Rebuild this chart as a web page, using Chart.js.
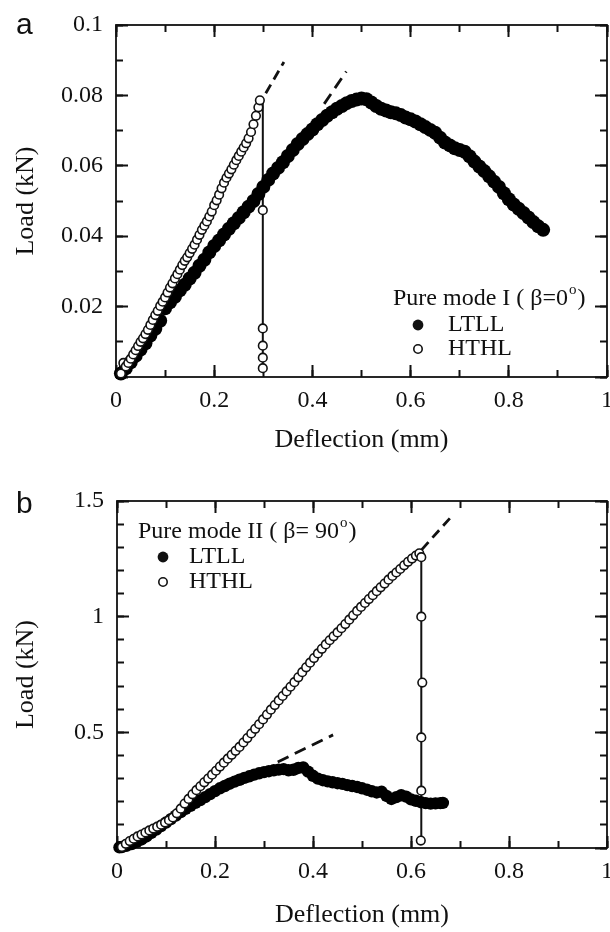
<!DOCTYPE html>
<html>
<head>
<meta charset="utf-8">
<script src="https://cdn.jsdelivr.net/npm/chart.js@4.4.1/dist/chart.umd.min.js"></script>
<style>
	body { margin: 0; background: #fff; overflow: hidden; }
	#wrap { position: relative; width: 610px; height: 932px; overflow: hidden; }
	canvas { position: absolute; left: 0; }
</style>
</head>
<body>
<div id="wrap">
	<canvas id="cntx_mode1" width="623" height="460" style="top:0"></canvas>
	<canvas id="cntx_mode2" width="623" height="472" style="top:460px"></canvas>
</div>
<script>
// ---- data: [deflection (mm), load (kN)] ----
const mode1_ltll = [
	[0.01, 0.0010], [0.02, 0.0025], [0.03, 0.0042], [0.04, 0.0060], [0.05, 0.0078],
	[0.06, 0.0096], [0.07, 0.0118], [0.08, 0.0137], [0.09, 0.0160], [0.10, 0.0195],
	[0.11, 0.0212], [0.12, 0.0228], [0.13, 0.0246], [0.14, 0.0262], [0.15, 0.0280],
	[0.16, 0.0296], [0.17, 0.0316], [0.18, 0.0333], [0.19, 0.0354], [0.20, 0.0372],
	[0.21, 0.0388], [0.22, 0.0405], [0.23, 0.0421], [0.24, 0.0437], [0.25, 0.0452],
	[0.26, 0.0468], [0.27, 0.0484], [0.28, 0.0500], [0.29, 0.0520], [0.30, 0.0540],
	[0.31, 0.0560], [0.32, 0.0578], [0.33, 0.0594], [0.34, 0.0610], [0.35, 0.0628],
	[0.36, 0.0645], [0.37, 0.0662], [0.38, 0.0676], [0.39, 0.0690], [0.40, 0.0703],
	[0.41, 0.0718], [0.42, 0.0730], [0.43, 0.0742], [0.44, 0.0752], [0.45, 0.0762],
	[0.46, 0.0770], [0.47, 0.0778], [0.48, 0.0784], [0.49, 0.0788], [0.50, 0.0791],
	[0.51, 0.0789], [0.52, 0.0780], [0.53, 0.0770], [0.54, 0.0762], [0.55, 0.0757],
	[0.56, 0.0752], [0.57, 0.0749], [0.58, 0.0744], [0.59, 0.0737], [0.60, 0.0732],
	[0.61, 0.0726], [0.62, 0.0718], [0.63, 0.0710], [0.64, 0.0702], [0.65, 0.0694],
	[0.66, 0.0680], [0.67, 0.0666], [0.68, 0.0658], [0.69, 0.0650], [0.70, 0.0645],
	[0.71, 0.0640], [0.72, 0.0627], [0.73, 0.0612], [0.74, 0.0598], [0.75, 0.0585],
	[0.76, 0.0570], [0.77, 0.0555], [0.78, 0.0540], [0.79, 0.0522], [0.80, 0.0505],
	[0.81, 0.0490], [0.82, 0.0478], [0.83, 0.0466], [0.84, 0.0453], [0.85, 0.0440],
	[0.86, 0.0428], [0.87, 0.0418]
];
const mode1_hthl = [
	[0.010, 0.0010], [0.015, 0.0040], [0.020, 0.0030], [0.025, 0.0040], [0.030, 0.0052],
	[0.035, 0.0064], [0.040, 0.0076], [0.045, 0.0088], [0.050, 0.0100], [0.055, 0.0110],
	[0.060, 0.0122], [0.065, 0.0134], [0.070, 0.0148], [0.075, 0.0162], [0.080, 0.0176],
	[0.085, 0.0188], [0.090, 0.0202], [0.095, 0.0214], [0.100, 0.0226], [0.105, 0.0240],
	[0.110, 0.0254], [0.115, 0.0266], [0.120, 0.0280], [0.125, 0.0292], [0.130, 0.0305],
	[0.135, 0.0318], [0.140, 0.0330], [0.145, 0.0340], [0.150, 0.0352], [0.155, 0.0364],
	[0.160, 0.0376], [0.165, 0.0390], [0.170, 0.0404], [0.175, 0.0418], [0.180, 0.0430],
	[0.185, 0.0442], [0.190, 0.0456], [0.195, 0.0470], [0.200, 0.0488], [0.205, 0.0502],
	[0.210, 0.0518], [0.215, 0.0536], [0.220, 0.0552], [0.225, 0.0566], [0.230, 0.0578],
	[0.235, 0.0590], [0.240, 0.0603], [0.245, 0.0616], [0.250, 0.0628], [0.255, 0.0640],
	[0.260, 0.0652], [0.265, 0.0664], [0.270, 0.0678], [0.275, 0.0696], [0.280, 0.0718],
	[0.285, 0.0742], [0.290, 0.0766], [0.293, 0.0786],
	[0.299, 0.0474], [0.299, 0.0138], [0.299, 0.0089], [0.299, 0.0055], [0.299, 0.0025]
];
const mode1_hthl_drop = [[0.299, 0.0790], [0.299, 0.0025]];
const mode1_hthl_dash = [[0.305, 0.0806], [0.342, 0.0895]];
const mode1_ltll_dash = [[0.424, 0.0776], [0.469, 0.0868]];

const mode2_ltll = [
	[0.005, 0.003], [0.01, 0.004], [0.02, 0.010], [0.03, 0.017], [0.04, 0.027], [0.05, 0.037],
	[0.06, 0.050], [0.07, 0.065], [0.08, 0.080], [0.09, 0.095], [0.10, 0.110],
	[0.11, 0.125], [0.12, 0.140], [0.13, 0.155], [0.14, 0.169], [0.15, 0.182],
	[0.16, 0.195], [0.17, 0.207], [0.18, 0.220], [0.19, 0.233], [0.20, 0.246],
	[0.21, 0.258], [0.22, 0.268], [0.23, 0.278], [0.24, 0.287], [0.25, 0.295],
	[0.26, 0.303], [0.27, 0.310], [0.28, 0.317], [0.29, 0.323], [0.30, 0.328],
	[0.31, 0.332], [0.32, 0.336], [0.33, 0.339], [0.34, 0.341], [0.35, 0.336],
	[0.36, 0.338], [0.37, 0.346], [0.38, 0.348], [0.39, 0.330], [0.40, 0.312],
	[0.41, 0.300], [0.42, 0.293], [0.43, 0.288], [0.44, 0.284], [0.45, 0.280],
	[0.46, 0.277], [0.47, 0.272], [0.48, 0.268], [0.49, 0.264], [0.50, 0.258],
	[0.51, 0.252], [0.52, 0.245], [0.53, 0.240], [0.54, 0.243], [0.55, 0.225],
	[0.56, 0.212], [0.57, 0.220], [0.58, 0.228], [0.59, 0.222], [0.60, 0.210],
	[0.61, 0.204], [0.62, 0.198], [0.63, 0.194], [0.64, 0.192], [0.65, 0.193],
	[0.66, 0.194], [0.665, 0.195]
];
const mode2_hthl = [
	[0.010, 0.004], [0.018, 0.018], [0.026, 0.030], [0.034, 0.040], [0.042, 0.050],
	[0.050, 0.058], [0.058, 0.067], [0.066, 0.076], [0.074, 0.084], [0.082, 0.092],
	[0.090, 0.101], [0.098, 0.110], [0.106, 0.120], [0.114, 0.132], [0.122, 0.150],
	[0.130, 0.170], [0.138, 0.192], [0.146, 0.212], [0.154, 0.232], [0.162, 0.250],
	[0.170, 0.267], [0.178, 0.284], [0.186, 0.300], [0.194, 0.317], [0.202, 0.334],
	[0.210, 0.352], [0.218, 0.369], [0.226, 0.386], [0.234, 0.403], [0.242, 0.420],
	[0.250, 0.437], [0.258, 0.456], [0.266, 0.475], [0.274, 0.495], [0.282, 0.515],
	[0.290, 0.535], [0.298, 0.556], [0.306, 0.577], [0.314, 0.598], [0.322, 0.618],
	[0.330, 0.638], [0.338, 0.657], [0.346, 0.677], [0.354, 0.697], [0.362, 0.717],
	[0.370, 0.738], [0.378, 0.760], [0.386, 0.781], [0.394, 0.801], [0.402, 0.821],
	[0.410, 0.841], [0.418, 0.861], [0.426, 0.880], [0.434, 0.898], [0.442, 0.915],
	[0.450, 0.932], [0.458, 0.950], [0.466, 0.968], [0.474, 0.987], [0.482, 1.006],
	[0.490, 1.025], [0.498, 1.042], [0.506, 1.059], [0.514, 1.076], [0.522, 1.093],
	[0.530, 1.110], [0.538, 1.127], [0.546, 1.143], [0.554, 1.160], [0.562, 1.176],
	[0.570, 1.191], [0.578, 1.206], [0.586, 1.222], [0.594, 1.237], [0.602, 1.251],
	[0.610, 1.264], [0.617, 1.274],
	[0.621, 1.257], [0.621, 1.000], [0.623, 0.715], [0.621, 0.478], [0.621, 0.248], [0.620, 0.032]
];
const mode2_hthl_drop = [[0.621, 1.272], [0.621, 0.032]];
const mode2_hthl_dash = [[0.622, 1.290], [0.683, 1.434]];
const mode2_ltll_dash = [[0.328, 0.372], [0.441, 0.489]];

const xTickLabels = ["0", "0.2", "0.4", "0.6", "0.8", "1"];
const yTickLabels_mode1 = ["0.02", "0.04", "0.06", "0.08", "0.1"];
const yTickLabels_mode2 = ["0.5", "1", "1.5"];

const serif = "'Liberation Serif', 'Times New Roman', serif";
const ink = "#111";

toPoints = (pairs) => pairs.map((p) => ({ x: p[0], y: p[1] }));
fmt = (v) => String(parseFloat(v.toFixed(3)));

// a label-less axis of zero size that only draws inward tick marks
tickAxis = (position, max, step, len) => ({
	type: "linear",
	position: position,
	min: 0,
	max: max,
	weight: -1,
	grid: { display: true, drawOnChartArea: false, drawTicks: true, tickLength: -len, tickWidth: 2, tickColor: ink },
	border: { display: false },
	ticks: { display: false, stepSize: step, autoSkip: false },
	afterFit: (s) => {
		if (s.isHorizontal()) s.height = 0;
		else s.width = 0;
	},
});

// frame round the plot
const frameBox = {
	id: "frameBox",
	beforeDatasetsDraw(chart) {
		const ctx = chart.ctx;
		const a = chart.chartArea;
		ctx.save();
		ctx.strokeStyle = ink;
		ctx.lineWidth = 1.8;
		ctx.strokeRect(a.left, a.top, a.right - a.left, a.bottom - a.top);
		ctx.restore();
	},
};

// panel letter and the inset key
const panelKey = {
	id: "panelKey",
	afterDraw(chart, args, opts) {
		const { ctx, chartArea: a } = chart;
		ctx.save();
		ctx.fillStyle = ink;
		ctx.textBaseline = "alphabetic";
		ctx.font = "30px 'Liberation Sans', Arial, sans-serif";
		ctx.fillText(opts.letter, 16, opts.letterY);

		const tx = a.left + opts.keyX;
		const ty = a.top + opts.keyY;
		ctx.font = "24px " + serif;
		ctx.textBaseline = "middle";
		ctx.fillText(opts.title, tx, ty);
		let w = ctx.measureText(opts.title).width;
		ctx.font = "15px " + serif;
		ctx.fillText("o", tx + w + 1, ty - 9);
		let w2 = ctx.measureText("o").width;
		ctx.font = "24px " + serif;
		ctx.fillText(")", tx + w + w2 + 2, ty);

		const mx = a.left + opts.markX;
		const lx = a.left + opts.labelX;
		ctx.beginPath();
		ctx.arc(mx, ty + opts.row1, 5.4, 0, Math.PI * 2);
		ctx.fill();
		ctx.fillText("LTLL", lx, ty + opts.row1);
		ctx.beginPath();
		ctx.lineWidth = 1.6;
		ctx.strokeStyle = ink;
		ctx.arc(mx, ty + opts.row2, 4.2, 0, Math.PI * 2);
		ctx.stroke();
		ctx.fillText("HTHL", lx, ty + opts.row2);
		ctx.restore();
	},
};

drawChart = (canvas, sets, yMax, yStep, yMajor, yLabels, layout, key, radii) => {
	const myChart = new Chart(canvas, {
		type: "scatter",
		data: {
			datasets: [
				{
					label: "HTHL",
					data: toPoints(sets.hthl),
					xAxisID: "x",
					yAxisID: "y",
					pointRadius: radii[1],
					pointBackgroundColor: "#fff",
					pointBorderColor: ink,
					pointBorderWidth: 1.6,
					showLine: false,
					clip: false,
					order: 0,
				},
				{
					label: "LTLL",
					data: toPoints(sets.ltll),
					xAxisID: "x",
					yAxisID: "y",
					pointRadius: radii[0],
					pointBackgroundColor: "#000",
					pointBorderColor: "#000",
					pointBorderWidth: 0,
					showLine: false,
					clip: false,
					order: 1,
				},
				{
					label: "drop",
					data: toPoints(sets.drop),
					xAxisID: "x",
					yAxisID: "y",
					showLine: true,
					pointRadius: 0,
					borderColor: ink,
					borderWidth: 2,
					order: 2,
				},
				{
					label: "hthl fit",
					data: toPoints(sets.hthlDash),
					xAxisID: "x",
					yAxisID: "y",
					showLine: true,
					pointRadius: 0,
					borderColor: ink,
					borderWidth: 2.8,
					borderDash: [10, 6],
					clip: false,
					order: 2,
				},
				{
					label: "ltll fit",
					data: toPoints(sets.ltllDash),
					xAxisID: "x",
					yAxisID: "y",
					showLine: true,
					pointRadius: 0,
					borderColor: ink,
					borderWidth: 2.8,
					borderDash: [12, 7],
					clip: false,
					order: 2,
				},
			],
		},
		options: {
			responsive: false,
			animation: false,
			devicePixelRatio: 1,
			layout: { padding: { top: layout.top, right: 16, bottom: 0, left: 0 } },
			plugins: {
				legend: { display: false },
				tooltip: { enabled: false },
				panelKey: key,
			},
			scales: {
				x: {
					type: "linear",
					min: 0,
					max: 1,
					grid: { display: false, drawTicks: false },
					border: { display: false },
					ticks: {
						stepSize: 0.1,
						autoSkip: false,
						maxRotation: 0,
						padding: 9,
						color: ink,
						font: { family: serif, size: 24 },
						callback: (v) => (xTickLabels.includes(fmt(v)) ? fmt(v) : ""),
					},
					title: {
						display: true,
						text: "Deflection (mm)",
						color: ink,
						font: { family: serif, size: 26 },
						padding: { top: 0, bottom: layout.xTitlePad },
					},
					afterFit: (s) => {
						s.height = layout.xHeight;
					},
				},
				y: {
					type: "linear",
					min: 0,
					max: yMax,
					grid: { display: false, drawTicks: false },
					border: { display: false },
					ticks: {
						stepSize: yStep,
						autoSkip: false,
						padding: 13,
						color: ink,
						font: { family: serif, size: 24, lineHeight: 1 },
						callback: (v) => (yLabels.includes(fmt(v)) ? fmt(v) : ""),
					},
					title: {
						display: true,
						text: "Load (kN)",
						color: ink,
						font: { family: serif, size: 26 },
						padding: { top: 11, bottom: 0 },
					},
					afterFit: (s) => {
						s.width = layout.yWidth;
					},
				},
				xMinB: tickAxis("bottom", 1, 0.1, 7),
				xMajB: tickAxis("bottom", 1, 0.2, 12),
				xMinT: tickAxis("top", 1, 0.1, 7),
				xMajT: tickAxis("top", 1, 0.2, 12),
				yMinL: tickAxis("left", yMax, yStep, 7),
				yMajL: tickAxis("left", yMax, yMajor, 12),
				yMinR: tickAxis("right", yMax, yStep, 7),
				yMajR: tickAxis("right", yMax, yMajor, 12),
			},
		},
		plugins: [frameBox, panelKey],
	});
};

drawChart(
	document.querySelector("#cntx_mode1"),
	{ ltll: mode1_ltll, hthl: mode1_hthl, drop: mode1_hthl_drop, hthlDash: mode1_hthl_dash, ltllDash: mode1_ltll_dash },
	0.1,
	0.01,
	0.02,
	yTickLabels_mode1,
	{ top: 25, xHeight: 83, yWidth: 116, xTitlePad: 4 },
	{
		letter: "a", letterY: 34, title: "Pure mode I ( \u03b2=0",
		keyX: 277, keyY: 274, markX: 302, labelX: 332, row1: 26, row2: 50,
	},
	[7, 4.3]
);

drawChart(
	document.querySelector("#cntx_mode2"),
	{ ltll: mode2_ltll, hthl: mode2_hthl, drop: mode2_hthl_drop, hthlDash: mode2_hthl_dash, ltllDash: mode2_ltll_dash },
	1.5,
	0.1,
	0.5,
	yTickLabels_mode2,
	{ top: 41, xHeight: 84, yWidth: 117, xTitlePad: 1 },
	{
		letter: "b", letterY: 53, title: "Pure mode II ( \u03b2= 90",
		keyX: 21, keyY: 31, markX: 46, labelX: 72, row1: 25, row2: 50,
	},
	[6.2, 4.3]
);
</script>
</body>
</html>
